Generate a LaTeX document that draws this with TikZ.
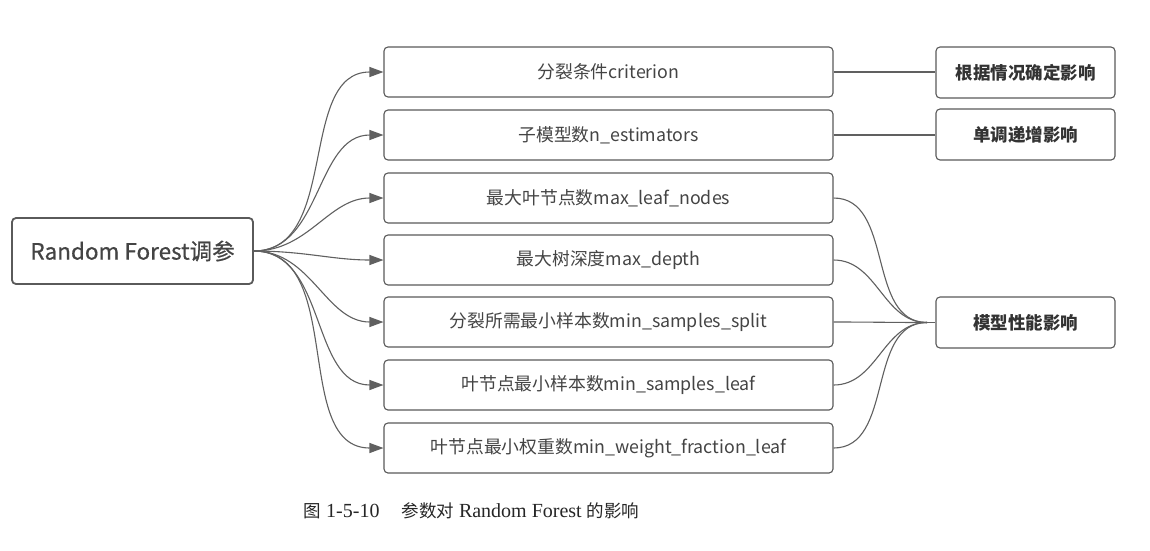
\documentclass[tikz,border=0pt]{standalone}
\usepackage{fontspec}
\setmainfont{Liberation Serif}
\newfontfamily\cjk{Noto Sans CJK SC}
\newfontfamily\cjkm{Noto Sans CJK SC}[FakeBold=0.6]
\newfontfamily\song{Noto Sans CJK SC}
\usetikzlibrary{arrows.meta}
\definecolor{boxc}{HTML}{5A5A5A}
\definecolor{linec}{HTML}{606060}
\definecolor{txt}{HTML}{444444}
\definecolor{txtb}{HTML}{333333}
\begin{document}
\begin{tikzpicture}[x=1pt,y=-1pt,
  rootbox/.style={draw=boxc, line width=1.8pt, rounded corners=4pt, minimum width=241pt, minimum height=66pt, inner sep=0pt, font=\cjkm\fontsize{22.5}{26}\selectfont, text=txt},
  midbox/.style={draw=boxc, line width=1.1pt, rounded corners=4pt, minimum width=449pt, minimum height=50pt, inner sep=0pt, font=\cjk\fontsize{17.8}{20}\selectfont, text=txt},
  resbox/.style={draw=boxc, line width=1.1pt, rounded corners=4pt, minimum width=179pt, minimum height=51pt, inner sep=0pt, font=\cjk\bfseries\fontsize{17.5}{20}\selectfont, text=txtb},
  arr/.style={draw=linec, line width=1.1pt, -{Triangle[length=14pt,width=10pt]}},
  conn/.style={draw=linec, line width=1.1pt}
]
\useasboundingbox[fill=white] (0,0) rectangle (1150,550);

\node[rootbox] (root) at (132.5,251) {Random Forest调参};

\node[midbox] (m1) at (608.5,72) {分裂条件criterion};
\node[midbox] (m2) at (608.5,135) {子模型数n\_estimators};
\node[midbox] (m3) at (608.5,198) {最大叶节点数max\_leaf\_nodes};
\node[midbox] (m4) at (608.5,260) {最大树深度max\_depth};
\node[midbox] (m5) at (608.5,322) {分裂所需最小样本数min\_samples\_split};
\node[midbox] (m6) at (608.5,385) {叶节点最小样本数min\_samples\_leaf};
\node[midbox] (m7) at (608.5,448) {叶节点最小权重数min\_weight\_fraction\_leaf};

\node[resbox] (r1) at (1025.5,72.5) {根据情况确定影响};
\node[resbox] (r2) at (1025.5,134.5) {单调递增影响};
\node[resbox] (r3) at (1025.5,322.5) {模型性能影响};

\foreach \i in {1,...,7}{
  \draw[arr] (root.east) to[out=0,in=180] (m\i.west);
}

\draw[conn] (m1.east) -- (r1.west |- m1.east);
\draw[conn] (m2.east) -- (r2.west |- m2.east);

\coordinate (j) at (927,322.5);
\foreach \i in {3,...,7}{
  \draw[conn] (m\i.east) to[out=0,in=180] (j);
}
\draw[conn] (j) -- (r3.west);

\node[font=\fontsize{20}{24}\selectfont, text=black!85] (cap) at (471.5,511)
  {{\song\fontsize{17.5}{24}\selectfont 图} 1-5-10\hspace{1.1em}{\song\fontsize{17.5}{24}\selectfont 参数对} Random Forest {\song\fontsize{17.5}{24}\selectfont 的影响}};
\end{tikzpicture}
\end{document}
